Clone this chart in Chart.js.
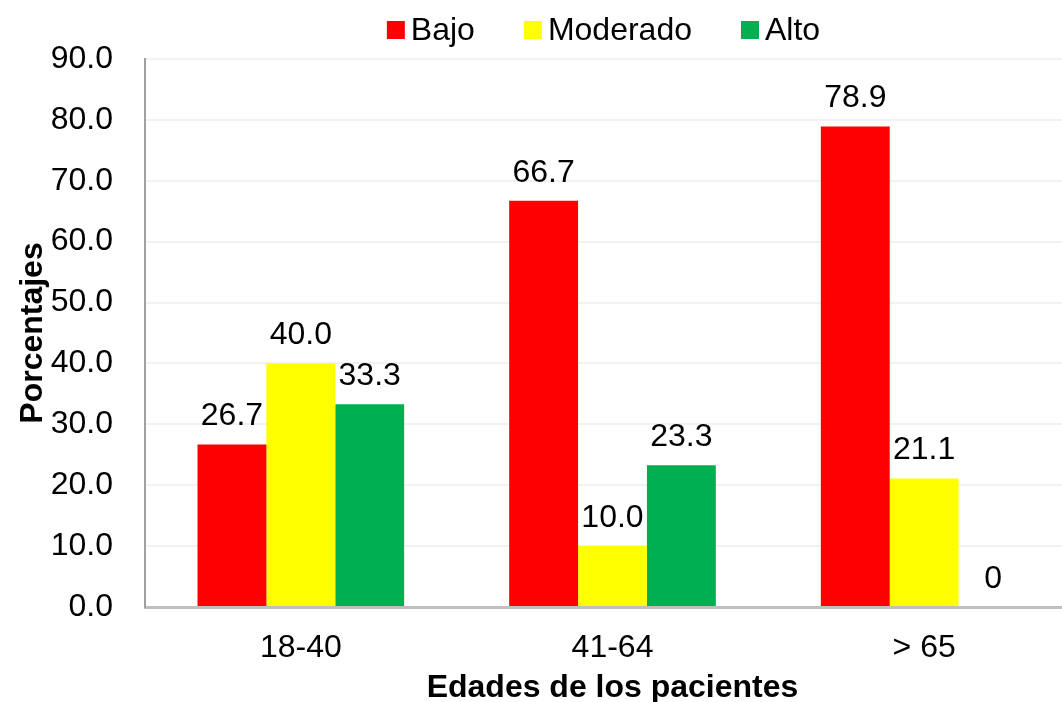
<!DOCTYPE html>
<html lang="es">
<head>
<meta charset="UTF-8">
<title>Edades de los pacientes</title>
<script src="https://cdn.jsdelivr.net/npm/chart.js@4.4.1/dist/chart.umd.min.js"></script>
<style>
    html, body { margin: 0; padding: 0; background: #fff; overflow: hidden; }
    /* el área del gráfico continúa un poco más allá del borde derecho, como en el original */
    .wrap { width: 1080px; height: 702px; position: relative; }
</style>
</head>
<body>
<div class="wrap"><canvas id="chart"></canvas></div>
<script>
// datos
const categorias = ['18-40', '41-64', '> 65'];
const bajo = [26.7, 66.7, 78.9];
const moderado = [40.0, 10.0, 21.1];
const alto = [33.3, 23.3, 0];

const FONT = "'Liberation Sans', Arial, sans-serif";
const ANCHO_VISIBLE = 1062;
Chart.defaults.font.family = FONT;
Chart.defaults.color = '#000';

// etiquetas encima de cada barra
const etiquetas = {
    id: 'etiquetas',
    afterDatasetsDraw(chart) {
        const ctx = chart.ctx;
        ctx.save();
        ctx.font = '32px ' + FONT;
        ctx.fillStyle = '#000';
        ctx.textAlign = 'center';
        ctx.textBaseline = 'bottom';
        chart.data.datasets.forEach((ds, i) => {
            chart.getDatasetMeta(i).data.forEach((bar, j) => {
                const v = ds.data[j];
                const txt = v === 0 ? '0' : v.toFixed(1);
                ctx.fillText(txt, bar.x, bar.y - 12);
            });
        });
        ctx.restore();
    }
};

// leyenda centrada sobre la parte visible del gráfico
const leyenda = {
    id: 'leyenda',
    afterDraw(chart) {
        const ctx = chart.ctx;
        const box = 18, gapTexto = 6, gapItem = 49, y = 30;
        ctx.save();
        ctx.font = '32px ' + FONT;
        ctx.textBaseline = 'middle';
        ctx.textAlign = 'left';
        const items = chart.data.datasets.map(ds => ({
            texto: ds.label, color: ds.backgroundColor,
            w: box + gapTexto + ctx.measureText(ds.label).width
        }));
        const total = items.reduce((s, it) => s + it.w, 0) + gapItem * (items.length - 1);
        let x = (chart.chartArea.left + ANCHO_VISIBLE) / 2 - total / 2;
        items.forEach(it => {
            ctx.fillStyle = it.color;
            ctx.fillRect(x, y - box / 2, box, box);
            ctx.fillStyle = '#000';
            ctx.fillText(it.texto, x + box + gapTexto, y + 1);
            x += it.w + gapItem;
        });
        ctx.restore();
    }
};

new Chart(document.getElementById('chart'), {
    type: 'bar',
    data: {
        labels: categorias,
        datasets: [
            { label: 'Bajo', data: bajo, backgroundColor: '#ff0000' },
            { label: 'Moderado', data: moderado, backgroundColor: '#ffff00' },
            { label: 'Alto', data: alto, backgroundColor: '#00b050' }
        ]
    },
    options: {
        responsive: true,
        maintainAspectRatio: false,
        animation: false,
        datasets: { bar: { barPercentage: 1, categoryPercentage: 0.663 } },
        layout: { padding: { top: 59, right: 0, left: 10, bottom: 0 } },
        plugins: {
            legend: { display: false },
            tooltip: { enabled: false }
        },
        scales: {
            x: {
                grid: { display: false },
                border: { display: true, color: '#bfbfbf', width: 3 },
                ticks: { font: { size: 32 }, padding: 14 },
                title: {
                    display: true,
                    text: 'Edades de los pacientes',
                    font: { size: 32, weight: 'bold', lineHeight: 1 },
                    padding: { top: 0, bottom: -2 }
                },
                afterFit(scale) { scale.height = 95; }
            },
            y: {
                min: 0,
                max: 90,
                grid: { color: '#f2f2f2', lineWidth: 2, drawTicks: false },
                border: { display: true, color: '#a0a0a0', width: 2 },
                ticks: {
                    stepSize: 10,
                    font: { size: 32 },
                    padding: 32,
                    callback: v => v.toFixed(1)
                },
                title: {
                    display: true,
                    text: 'Porcentajes',
                    font: { size: 32, weight: 'bold' },
                    padding: { bottom: 4 }
                },
                afterFit(scale) { scale.width = 135; }
            }
        }
    },
    plugins: [etiquetas, leyenda]
});
</script>
</body>
</html>
